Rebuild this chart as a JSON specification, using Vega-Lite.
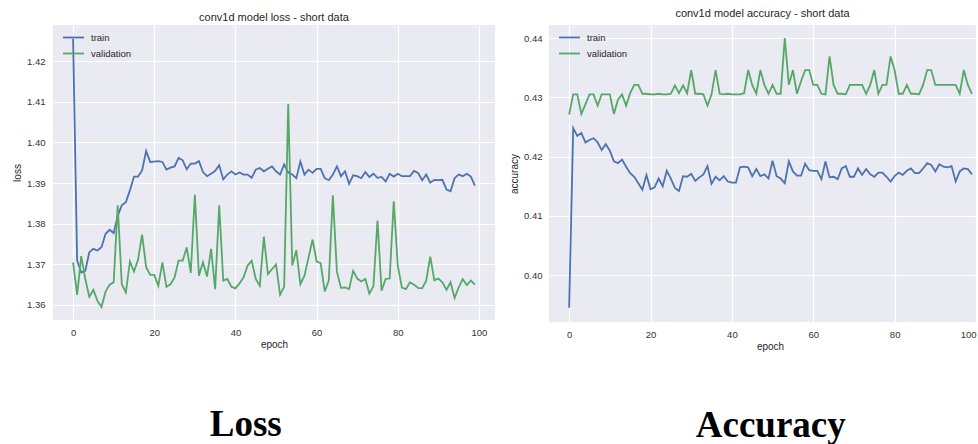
{
  "$schema": "https://vega.github.io/schema/vega-lite/v6.json",
  "background": "white",
  "padding": {"left": 12, "top": 8, "right": 3, "bottom": 0},
  "config": {
    "font": "Liberation Sans",
    "view": {"fill": "#EAEAF2", "stroke": null},
    "axis": {"grid": true, "gridColor": "white", "gridWidth": 1.2, "domain": false, "ticks": false, "labelColor": "#333333", "labelFontSize": 9.5, "labelFont": "Liberation Sans", "titleColor": "#262626", "titleFont": "Liberation Sans", "titleFontWeight": "normal", "titleFontSize": 10},
    "axisX": {"labelPadding": 7, "titlePadding": 3},
    "axisY": {"labelPadding": 8, "titlePadding": 4},
    "title": {"fontSize": 11, "fontWeight": "normal", "color": "#262626", "font": "Liberation Sans"},
    "legend": {"orient": "none", "legendX": 9, "legendY": 1, "title": null, "symbolType": "stroke", "symbolSize": 441, "symbolStrokeWidth": 1.8, "labelFontSize": 9.5, "labelColor": "#262626", "labelFont": "Liberation Sans", "padding": 0, "rowPadding": -11, "labelOffset": 6}
  },
  "datasets": {
    "loss": [
      {"epoch":0,"train":1.4255,"validation":1.3705},{"epoch":1,"train":1.3709,"validation":1.3625},{"epoch":2,"train":1.3680,"validation":1.3720},{"epoch":3,"train":1.3684,"validation":1.3664},{"epoch":4,"train":1.3730,"validation":1.3620},{"epoch":5,"train":1.3738,"validation":1.3637},{"epoch":6,"train":1.3734,"validation":1.3610},{"epoch":7,"train":1.3742,"validation":1.3595},{"epoch":8,"train":1.3775,"validation":1.3633},{"epoch":9,"train":1.3785,"validation":1.3650},
      {"epoch":10,"train":1.3777,"validation":1.3656},{"epoch":11,"train":1.3820,"validation":1.3845},{"epoch":12,"train":1.3845,"validation":1.3651},{"epoch":13,"train":1.3853,"validation":1.3631},{"epoch":14,"train":1.3882,"validation":1.3707},{"epoch":15,"train":1.3916,"validation":1.3682},{"epoch":16,"train":1.3916,"validation":1.3711},{"epoch":17,"train":1.3931,"validation":1.3773},{"epoch":18,"train":1.3979,"validation":1.3693},{"epoch":19,"train":1.3952,"validation":1.3674},
      {"epoch":20,"train":1.3953,"validation":1.3674},{"epoch":21,"train":1.3954,"validation":1.3647},{"epoch":22,"train":1.3952,"validation":1.3705},{"epoch":23,"train":1.3933,"validation":1.3645},{"epoch":24,"train":1.3938,"validation":1.3651},{"epoch":25,"train":1.3941,"validation":1.3668},{"epoch":26,"train":1.3962,"validation":1.3709},{"epoch":27,"train":1.3956,"validation":1.3709},{"epoch":28,"train":1.3934,"validation":1.3742},{"epoch":29,"train":1.3948,"validation":1.3679},
      {"epoch":30,"train":1.3948,"validation":1.3872},{"epoch":31,"train":1.3954,"validation":1.3672},{"epoch":32,"train":1.3927,"validation":1.3705},{"epoch":33,"train":1.3917,"validation":1.3670},{"epoch":34,"train":1.3923,"validation":1.3738},{"epoch":35,"train":1.3930,"validation":1.3639},{"epoch":36,"train":1.3944,"validation":1.3845},{"epoch":37,"train":1.3909,"validation":1.3660},{"epoch":38,"train":1.3921,"validation":1.3664},{"epoch":39,"train":1.3929,"validation":1.3645},
      {"epoch":40,"train":1.3921,"validation":1.3641},{"epoch":41,"train":1.3926,"validation":1.3653},{"epoch":42,"train":1.3921,"validation":1.3668},{"epoch":43,"train":1.3921,"validation":1.3697},{"epoch":44,"train":1.3913,"validation":1.3709},{"epoch":45,"train":1.3933,"validation":1.3664},{"epoch":46,"train":1.3937,"validation":1.3647},{"epoch":47,"train":1.3929,"validation":1.3768},{"epoch":48,"train":1.3935,"validation":1.3676},{"epoch":49,"train":1.3941,"validation":1.3688},
      {"epoch":50,"train":1.3929,"validation":1.3700},{"epoch":51,"train":1.3921,"validation":1.3625},{"epoch":52,"train":1.3946,"validation":1.3645},{"epoch":53,"train":1.3926,"validation":1.4095},{"epoch":54,"train":1.3921,"validation":1.3697},{"epoch":55,"train":1.3912,"validation":1.3735},{"epoch":56,"train":1.3953,"validation":1.3651},{"epoch":57,"train":1.3921,"validation":1.3672},{"epoch":58,"train":1.3933,"validation":1.3716},{"epoch":59,"train":1.3925,"validation":1.3761},
      {"epoch":60,"train":1.3935,"validation":1.3707},{"epoch":61,"train":1.3935,"validation":1.3703},{"epoch":62,"train":1.3912,"validation":1.3633},{"epoch":63,"train":1.3907,"validation":1.3660},{"epoch":64,"train":1.3921,"validation":1.3870},{"epoch":65,"train":1.3941,"validation":1.3682},{"epoch":66,"train":1.3917,"validation":1.3642},{"epoch":67,"train":1.3929,"validation":1.3643},{"epoch":68,"train":1.3898,"validation":1.3639},{"epoch":69,"train":1.3919,"validation":1.3684},
      {"epoch":70,"train":1.3917,"validation":1.3665},{"epoch":71,"train":1.3912,"validation":1.3658},{"epoch":72,"train":1.3927,"validation":1.3664},{"epoch":73,"train":1.3915,"validation":1.3628},{"epoch":74,"train":1.3923,"validation":1.3646},{"epoch":75,"train":1.3913,"validation":1.3808},{"epoch":76,"train":1.3915,"validation":1.3635},{"epoch":77,"train":1.3904,"validation":1.3664},{"epoch":78,"train":1.3923,"validation":1.3665},{"epoch":79,"train":1.3916,"validation":1.3855},
      {"epoch":80,"train":1.3923,"validation":1.3697},{"epoch":81,"train":1.3917,"validation":1.3643},{"epoch":82,"train":1.3917,"validation":1.3639},{"epoch":83,"train":1.3917,"validation":1.3656},{"epoch":84,"train":1.3930,"validation":1.3650},{"epoch":85,"train":1.3925,"validation":1.3642},{"epoch":86,"train":1.3907,"validation":1.3641},{"epoch":87,"train":1.3921,"validation":1.3660},{"epoch":88,"train":1.3901,"validation":1.3719},{"epoch":89,"train":1.3908,"validation":1.3661},
      {"epoch":90,"train":1.3907,"validation":1.3665},{"epoch":91,"train":1.3908,"validation":1.3656},{"epoch":92,"train":1.3884,"validation":1.3637},{"epoch":93,"train":1.3880,"validation":1.3656},{"epoch":94,"train":1.3912,"validation":1.3617},{"epoch":95,"train":1.3921,"validation":1.3643},{"epoch":96,"train":1.3917,"validation":1.3664},{"epoch":97,"train":1.3923,"validation":1.3649},{"epoch":98,"train":1.3916,"validation":1.3660},{"epoch":99,"train":1.3894,"validation":1.3650}
    ],
    "acc": [
      {"epoch":0,"train":0.3945,"validation":0.4271},{"epoch":1,"train":0.4248,"validation":0.4305},{"epoch":2,"train":0.4235,"validation":0.4305},{"epoch":3,"train":0.4240,"validation":0.4272},{"epoch":4,"train":0.4224,"validation":0.4288},{"epoch":5,"train":0.4228,"validation":0.4305},{"epoch":6,"train":0.4231,"validation":0.4305},{"epoch":7,"train":0.4224,"validation":0.4286},{"epoch":8,"train":0.4211,"validation":0.4305},{"epoch":9,"train":0.4221,"validation":0.4305},
      {"epoch":10,"train":0.4210,"validation":0.4305},{"epoch":11,"train":0.4192,"validation":0.4272},{"epoch":12,"train":0.4189,"validation":0.4296},{"epoch":13,"train":0.4195,"validation":0.4305},{"epoch":14,"train":0.4183,"validation":0.4286},{"epoch":15,"train":0.4172,"validation":0.4307},{"epoch":16,"train":0.4166,"validation":0.4321},{"epoch":17,"train":0.4155,"validation":0.4321},{"epoch":18,"train":0.4144,"validation":0.4306},{"epoch":19,"train":0.4169,"validation":0.4306},
      {"epoch":20,"train":0.4145,"validation":0.4305},{"epoch":21,"train":0.4148,"validation":0.4305},{"epoch":22,"train":0.4163,"validation":0.4306},{"epoch":23,"train":0.4150,"validation":0.4305},{"epoch":24,"train":0.4176,"validation":0.4305},{"epoch":25,"train":0.4163,"validation":0.4306},{"epoch":26,"train":0.4147,"validation":0.4320},{"epoch":27,"train":0.4142,"validation":0.4307},{"epoch":28,"train":0.4167,"validation":0.4320},{"epoch":29,"train":0.4166,"validation":0.4307},
      {"epoch":30,"train":0.4171,"validation":0.4346},{"epoch":31,"train":0.4159,"validation":0.4306},{"epoch":32,"train":0.4165,"validation":0.4306},{"epoch":33,"train":0.4170,"validation":0.4305},{"epoch":34,"train":0.4184,"validation":0.4286},{"epoch":35,"train":0.4154,"validation":0.4305},{"epoch":36,"train":0.4166,"validation":0.4346},{"epoch":37,"train":0.4160,"validation":0.4306},{"epoch":38,"train":0.4167,"validation":0.4305},{"epoch":39,"train":0.4158,"validation":0.4306},
      {"epoch":40,"train":0.4156,"validation":0.4305},{"epoch":41,"train":0.4156,"validation":0.4305},{"epoch":42,"train":0.4182,"validation":0.4305},{"epoch":43,"train":0.4183,"validation":0.4307},{"epoch":44,"train":0.4182,"validation":0.4346},{"epoch":45,"train":0.4167,"validation":0.4321},{"epoch":46,"train":0.4179,"validation":0.4306},{"epoch":47,"train":0.4167,"validation":0.4346},{"epoch":48,"train":0.4170,"validation":0.4321},{"epoch":49,"train":0.4163,"validation":0.4306},
      {"epoch":50,"train":0.4193,"validation":0.4321},{"epoch":51,"train":0.4167,"validation":0.4306},{"epoch":52,"train":0.4163,"validation":0.4306},{"epoch":53,"train":0.4155,"validation":0.4400},{"epoch":54,"train":0.4192,"validation":0.4321},{"epoch":55,"train":0.4175,"validation":0.4346},{"epoch":56,"train":0.4168,"validation":0.4306},{"epoch":57,"train":0.4168,"validation":0.4327},{"epoch":58,"train":0.4188,"validation":0.4346},{"epoch":59,"train":0.4177,"validation":0.4346},
      {"epoch":60,"train":0.4176,"validation":0.4321},{"epoch":61,"train":0.4176,"validation":0.4321},{"epoch":62,"train":0.4162,"validation":0.4306},{"epoch":63,"train":0.4192,"validation":0.4305},{"epoch":64,"train":0.4165,"validation":0.4369},{"epoch":65,"train":0.4166,"validation":0.4321},{"epoch":66,"train":0.4162,"validation":0.4306},{"epoch":67,"train":0.4180,"validation":0.4306},{"epoch":68,"train":0.4184,"validation":0.4305},{"epoch":69,"train":0.4166,"validation":0.4321},
      {"epoch":70,"train":0.4166,"validation":0.4321},{"epoch":71,"train":0.4180,"validation":0.4321},{"epoch":72,"train":0.4169,"validation":0.4321},{"epoch":73,"train":0.4179,"validation":0.4306},{"epoch":74,"train":0.4170,"validation":0.4321},{"epoch":75,"train":0.4166,"validation":0.4346},{"epoch":76,"train":0.4173,"validation":0.4306},{"epoch":77,"train":0.4173,"validation":0.4321},{"epoch":78,"train":0.4166,"validation":0.4321},{"epoch":79,"train":0.4158,"validation":0.4369},
      {"epoch":80,"train":0.4167,"validation":0.4346},{"epoch":81,"train":0.4173,"validation":0.4306},{"epoch":82,"train":0.4169,"validation":0.4306},{"epoch":83,"train":0.4176,"validation":0.4321},{"epoch":84,"train":0.4180,"validation":0.4306},{"epoch":85,"train":0.4172,"validation":0.4306},{"epoch":86,"train":0.4172,"validation":0.4305},{"epoch":87,"train":0.4180,"validation":0.4321},{"epoch":88,"train":0.4189,"validation":0.4346},{"epoch":89,"train":0.4186,"validation":0.4346},
      {"epoch":90,"train":0.4175,"validation":0.4321},{"epoch":91,"train":0.4187,"validation":0.4321},{"epoch":92,"train":0.4183,"validation":0.4321},{"epoch":93,"train":0.4182,"validation":0.4321},{"epoch":94,"train":0.4184,"validation":0.4321},{"epoch":95,"train":0.4158,"validation":0.4321},{"epoch":96,"train":0.4175,"validation":0.4306},{"epoch":97,"train":0.4180,"validation":0.4346},{"epoch":98,"train":0.4179,"validation":0.4321},{"epoch":99,"train":0.4170,"validation":0.4306}
    ]
  },
  "spacing": 14,
  "hconcat": [
    {
      "title": {"text": "Loss", "orient": "bottom", "anchor": "middle", "font": "Liberation Serif", "fontSize": 37, "fontWeight": "bold", "color": "black", "offset": 57, "dx": -8},
      "vconcat": [
        {
          "title": {"text": "conv1d model loss - short data", "offset": 2},
          "width": 442,
          "height": 295,
          "data": {"name": "loss"},
          "transform": [{"fold": ["train", "validation"], "as": ["series", "value"]}],
          "mark": {"type": "line", "strokeWidth": 1.8, "clip": true},
          "encoding": {
            "x": {"field": "epoch", "type": "quantitative", "title": "epoch", "scale": {"domain": [-4.95, 103.95], "nice": false, "zero": false}, "axis": {"values": [0, 20, 40, 60, 80, 100]}},
            "y": {"field": "value", "type": "quantitative", "title": "loss", "scale": {"domain": [1.3563, 1.4289], "nice": false, "zero": false}, "axis": {"values": [1.36, 1.37, 1.38, 1.39, 1.40, 1.41, 1.42], "format": ".2f"}},
            "color": {"field": "series", "type": "nominal", "scale": {"domain": ["train", "validation"], "range": ["#4C72B0", "#55A868"]}}
          }
        }
      ]
    },
    {
      "title": {"text": "Accuracy", "orient": "bottom", "anchor": "middle", "font": "Liberation Serif", "fontSize": 37, "fontWeight": "bold", "color": "black", "offset": 56, "dx": 28},
      "vconcat": [
        {
          "title": {"text": "conv1d model accuracy - short data", "offset": 6},
          "width": 427,
          "height": 297,
          "data": {"name": "acc"},
          "transform": [{"fold": ["train", "validation"], "as": ["series", "value"]}],
          "mark": {"type": "line", "strokeWidth": 1.8, "clip": true},
          "encoding": {
            "x": {"field": "epoch", "type": "quantitative", "title": "epoch", "scale": {"domain": [-4.95, 100], "nice": false, "zero": false}, "axis": {"values": [0, 20, 40, 60, 80, 100], "labelFlush": true, "titleX": 221}},
            "y": {"field": "value", "type": "quantitative", "title": "accuracy", "scale": {"domain": [0.3921, 0.4422], "nice": false, "zero": false}, "axis": {"values": [0.40, 0.41, 0.42, 0.43, 0.44], "format": ".2f", "labelPadding": 7}},
            "color": {"field": "series", "type": "nominal", "scale": {"domain": ["train", "validation"], "range": ["#4C72B0", "#55A868"]}}
          }
        }
      ]
    }
  ],
  "resolve": {"scale": {"color": "independent"}}
}
